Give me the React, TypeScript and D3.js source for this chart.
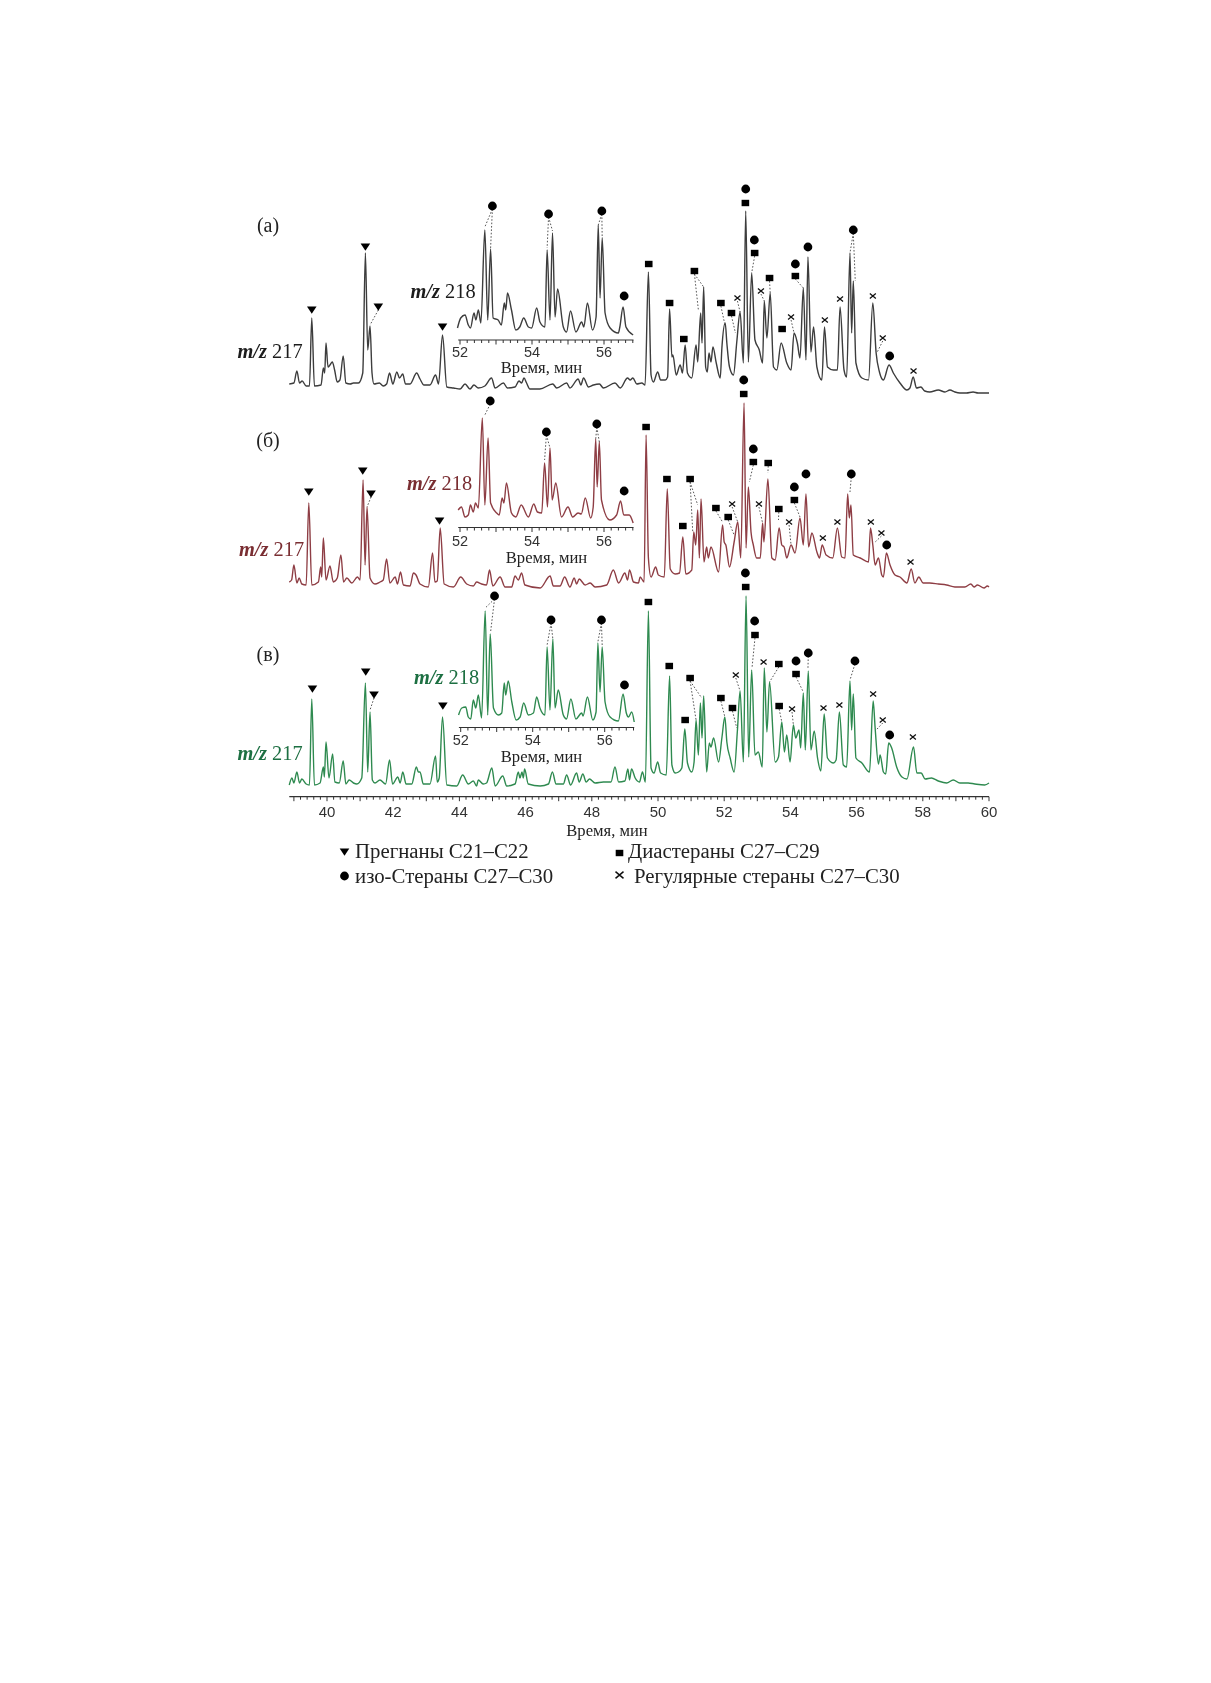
import * as d3 from "d3";

type Pt = [number, number];
type Kind = "tri" | "sq" | "dot" | "x";
// kind, time, intensity, then peaks the dotted leader runs to
type Mark = [Kind, number, number, ...Pt[]];

// m/z 217 traces: [time in min, intensity]
const traceA: Pt[] = [
  [38.86, 6], [39.0, 7], [39.09, 19], [39.17, 7], [39.25, 9], [39.37, 4], [39.47, 4], [39.54, 72], [39.62, 4], [39.82, 5],
  [39.89, 22], [39.93, 17], [39.97, 47], [40.03, 23], [40.09, 25], [40.16, 28], [40.23, 20], [40.31, 8], [40.39, 10], [40.49, 34],
  [40.57, 7], [40.7, 6], [40.8, 7], [40.95, 7], [41.08, 17], [41.16, 137], [41.23, 40], [41.3, 64], [41.36, 17], [41.42, 6],
  [41.58, 7], [41.7, 4], [41.8, 6], [41.89, 17], [41.99, 6], [42.11, 18], [42.19, 12], [42.29, 16], [42.37, 6], [42.51, 6],
  [42.71, 17], [42.81, 11], [42.93, 5], [43.11, 5], [43.28, 15], [43.37, 6], [43.49, 55], [43.62, 3], [43.82, 2], [44.02, 1],
  [44.17, 6], [44.32, 1], [44.44, 5], [44.57, 2], [44.77, 4], [44.97, 12], [45.08, 2], [45.33, 7], [45.45, 2], [45.68, 3],
  [45.8, 9], [45.88, 7], [45.95, 12], [46.03, 7], [46.13, 1], [46.43, 1], [46.82, 6], [46.94, 2], [47.24, 7], [47.34, 2],
  [47.59, 11], [47.67, 5], [47.75, 12], [47.9, 3], [48.05, 5], [48.23, 6], [48.35, 2], [48.7, 7], [48.86, 2], [49.08, 12],
  [49.16, 10], [49.24, 12], [49.36, 6], [49.51, 7], [49.61, 5], [49.71, 118], [49.79, 15], [49.86, 8], [49.99, 18], [50.08, 10],
  [50.22, 10], [50.29, 13], [50.35, 81], [50.42, 33], [50.45, 35], [50.55, 15], [50.67, 25], [50.74, 17], [50.82, 45], [50.89, 17],
  [51.02, 12], [51.15, 45], [51.2, 28], [51.29, 77], [51.33, 47], [51.38, 103], [51.44, 23], [51.49, 18], [51.54, 37], [51.6, 28],
  [51.66, 43], [51.76, 27], [51.88, 12], [51.93, 42], [52.03, 67], [52.08, 47], [52.16, 23], [52.28, 15], [52.38, 48], [52.48, 78],
  [52.58, 27], [52.65, 179], [52.73, 28], [52.83, 117], [52.93, 50], [53.06, 40], [53.16, 27], [53.21, 89], [53.29, 52], [53.39, 97],
  [53.49, 23], [53.59, 20], [53.72, 47], [53.89, 27], [54.02, 20], [54.11, 57], [54.21, 47], [54.29, 32], [54.39, 102], [54.47, 30],
  [54.53, 133], [54.62, 38], [54.7, 63], [54.8, 23], [54.95, 10], [55.03, 63], [55.12, 23], [55.3, 20], [55.42, 20], [55.5, 83],
  [55.62, 20], [55.7, 13], [55.8, 137], [55.85, 57], [55.9, 109], [55.98, 27], [56.16, 12], [56.36, 10], [56.49, 87], [56.59, 37],
  [56.69, 18], [56.81, 10], [56.98, 25], [57.11, 17], [57.31, 7], [57.52, 0], [57.61, 2], [57.71, 13], [57.81, 2], [57.94, 3],
  [58.06, -1], [58.21, -2], [58.47, 0], [58.67, -2], [58.82, 0], [58.97, -2], [59.12, -3], [59.32, -3], [59.52, -2], [59.67, -3],
  [59.87, -3], [60, -3],
];

const traceB: Pt[] = [
  [38.86, 5], [38.93, 7], [39.0, 22], [39.09, 4], [39.16, 9], [39.24, 3], [39.37, 2], [39.45, 84], [39.54, 2], [39.74, 5],
  [39.81, 20], [39.84, 10], [39.89, 49], [39.97, 7], [40.09, 21], [40.19, 5], [40.31, 9], [40.42, 32], [40.5, 5], [40.6, 9],
  [40.75, 4], [40.92, 10], [41.0, 7], [41.09, 107], [41.15, 22], [41.21, 80], [41.3, 9], [41.45, 3], [41.6, 5], [41.7, 7],
  [41.8, 28], [41.9, 4], [42.06, 10], [42.13, 3], [42.22, 15], [42.31, 2], [42.51, 1], [42.61, 14], [42.69, 12], [42.81, 3],
  [43.06, 0], [43.19, 34], [43.26, 5], [43.33, 6], [43.42, 59], [43.54, 3], [43.82, 0], [44.04, 10], [44.22, 3], [44.42, 1],
  [44.52, 5], [44.67, 3], [44.82, 2], [44.91, 17], [45.01, 1], [45.23, 10], [45.38, 0], [45.58, 0], [45.68, 11], [45.78, 7],
  [45.88, 14], [45.98, 2], [46.44, -1], [46.74, 11], [46.84, 1], [47.04, 1], [47.18, 10], [47.34, 0], [47.47, 9], [47.54, 3],
  [47.62, 8], [47.8, 2], [47.95, 4], [48.1, 0], [48.45, 2], [48.65, 17], [48.81, 4], [49.0, 14], [49.08, 7], [49.14, 17],
  [49.26, 5], [49.41, 4], [49.46, 10], [49.58, 5], [49.64, 152], [49.71, 29], [49.79, 10], [49.93, 20], [50.01, 12], [50.19, 10],
  [50.28, 98], [50.37, 18], [50.52, 13], [50.65, 14], [50.75, 50], [50.84, 13], [51.02, 17], [51.08, 55], [51.14, 42], [51.2, 77],
  [51.25, 29], [51.3, 88], [51.39, 25], [51.47, 40], [51.52, 29], [51.6, 40], [51.83, 15], [51.95, 62], [52.0, 45], [52.05, 42],
  [52.16, 20], [52.3, 45], [52.41, 65], [52.5, 29], [52.6, 184], [52.66, 39], [52.73, 100], [52.81, 55], [52.88, 42], [52.98, 29],
  [53.09, 29], [53.16, 64], [53.2, 45], [53.32, 108], [53.44, 29], [53.54, 27], [53.66, 59], [53.74, 42], [53.81, 40], [53.89, 29],
  [54.02, 42], [54.14, 34], [54.29, 69], [54.39, 42], [54.47, 93], [54.55, 40], [54.65, 54], [54.8, 35], [54.88, 29], [54.96, 42],
  [55.08, 32], [55.28, 29], [55.42, 59], [55.55, 30], [55.65, 29], [55.73, 93], [55.78, 69], [55.83, 82], [55.9, 32], [56.11, 29],
  [56.36, 25], [56.42, 59], [56.49, 42], [56.56, 22], [56.66, 29], [56.76, 12], [56.81, 10], [56.9, 34], [57.01, 22], [57.16, 12],
  [57.31, 10], [57.52, 4], [57.65, 18], [57.76, 4], [57.88, 10], [58.01, 4], [58.21, 4], [58.47, 3], [58.72, 2], [58.97, 0],
  [59.27, 0], [59.45, 3], [59.55, 0], [59.65, 2], [59.85, -1], [59.95, 1], [60, 0],
];

const traceC: Pt[] = [
  [38.86, 1], [38.94, 8], [39.0, 3], [39.09, 14], [39.17, 3], [39.24, 7], [39.37, 2], [39.47, 1], [39.54, 87], [39.62, 1],
  [39.79, 3], [39.89, 19], [39.92, 9], [39.97, 44], [40.06, 8], [40.17, 32], [40.24, 4], [40.37, 3], [40.49, 25], [40.57, 2],
  [40.67, 6], [40.8, 3], [40.9, 2], [41.05, 8], [41.16, 103], [41.23, 14], [41.3, 74], [41.37, 6], [41.45, 3], [41.6, 6],
  [41.77, 2], [41.89, 26], [41.98, 2], [42.14, 9], [42.21, 3], [42.29, 14], [42.39, 2], [42.56, 2], [42.7, 19], [42.76, 14],
  [42.81, 14], [42.91, 2], [43.11, 2], [43.28, 30], [43.33, 4], [43.39, 8], [43.49, 69], [43.62, 1], [43.92, 0], [44.1, 11],
  [44.27, 2], [44.42, 5], [44.52, 0], [44.57, 6], [44.72, 2], [44.82, 3], [44.98, 18], [45.08, 0], [45.31, 10], [45.43, 0],
  [45.68, 2], [45.78, 14], [45.83, 8], [45.89, 14], [45.93, 8], [45.97, 17], [46.08, 2], [46.44, 0], [46.69, 2], [46.81, 14],
  [46.92, 2], [47.14, 2], [47.24, 11], [47.36, 1], [47.54, 13], [47.62, 4], [47.73, 12], [47.83, 4], [47.93, 7], [48.1, 3],
  [48.35, 4], [48.58, 4], [48.7, 19], [48.81, 4], [49.0, 5], [49.09, 17], [49.14, 6], [49.2, 17], [49.31, 8], [49.44, 4],
  [49.53, 14], [49.62, 4], [49.71, 175], [49.79, 18], [49.88, 13], [49.99, 24], [50.08, 13], [50.25, 11], [50.35, 110], [50.42, 21],
  [50.52, 13], [50.62, 14], [50.72, 18], [50.81, 57], [50.89, 23], [51.02, 14], [51.09, 24], [51.15, 66], [51.22, 31], [51.28, 83],
  [51.33, 48], [51.38, 90], [51.47, 14], [51.55, 43], [51.6, 39], [51.68, 48], [51.83, 24], [51.93, 48], [52.02, 69], [52.08, 44],
  [52.18, 28], [52.3, 14], [52.4, 56], [52.48, 95], [52.58, 24], [52.66, 190], [52.74, 29], [52.83, 116], [52.93, 31], [53.03, 34],
  [53.15, 19], [53.21, 118], [53.29, 54], [53.37, 104], [53.54, 24], [53.64, 29], [53.74, 64], [53.82, 34], [53.89, 51], [53.99, 24],
  [54.09, 61], [54.16, 48], [54.26, 56], [54.31, 38], [54.39, 93], [54.45, 36], [54.54, 115], [54.62, 36], [54.72, 55], [54.82, 28],
  [54.92, 15], [55.02, 72], [55.12, 28], [55.3, 23], [55.38, 26], [55.48, 74], [55.6, 21], [55.7, 19], [55.8, 105], [55.85, 56],
  [55.9, 92], [55.98, 28], [56.16, 23], [56.39, 14], [56.5, 85], [56.56, 58], [56.66, 22], [56.71, 31], [56.81, 14], [56.88, 12],
  [56.97, 43], [57.06, 38], [57.21, 19], [57.37, 9], [57.52, 7], [57.72, 39], [57.82, 13], [57.95, 13], [58.07, 7], [58.26, 8],
  [58.47, 5], [58.72, 3], [58.92, 6], [59.12, 3], [59.37, 3], [59.57, 2], [59.87, 1], [60, 3],
];

// m/z 218 insets
const insetA: Pt[] = [
  [51.93, 5], [52.02, 15], [52.14, 18], [52.23, 8], [52.29, 5], [52.39, 20], [52.44, 13], [52.51, 23], [52.58, 10], [52.69, 103],
  [52.77, 13], [52.85, 84], [52.92, 15], [53.06, 13], [53.15, 8], [53.23, 30], [53.27, 23], [53.32, 40], [53.43, 23], [53.55, 3],
  [53.66, 6], [53.77, 15], [53.9, 6], [53.99, 5], [54.13, 25], [54.22, 11], [54.36, 6], [54.42, 83], [54.5, 13], [54.57, 100],
  [54.64, 16], [54.71, 44], [54.87, 6], [54.96, 1], [55.07, 22], [55.22, 1], [55.38, 11], [55.44, 6], [55.54, 30], [55.68, 3],
  [55.78, 16], [55.84, 108], [55.89, 35], [55.95, 95], [56.03, 20], [56.17, 5], [56.4, 0], [56.44, 6], [56.53, 26], [56.61, 6],
  [56.81, -2],
];

const insetB: Pt[] = [
  [51.95, 10], [52.04, 13], [52.14, 3], [52.23, 5], [52.29, 15], [52.37, 8], [52.43, 17], [52.51, 12], [52.62, 102], [52.69, 15],
  [52.78, 82], [52.85, 17], [53.02, 7], [53.09, 5], [53.17, 22], [53.22, 17], [53.29, 37], [53.43, 7], [53.55, 3], [53.7, 15],
  [53.9, 3], [54.05, 16], [54.15, 8], [54.27, 7], [54.35, 57], [54.43, 13], [54.5, 72], [54.56, 20], [54.66, 37], [54.82, 3],
  [55, 13], [55.13, 3], [55.28, 7], [55.37, 6], [55.48, 22], [55.63, 2], [55.7, 13], [55.77, 81], [55.81, 33], [55.87, 78],
  [55.93, 20], [56.16, 0], [56.35, 5], [56.46, 19], [56.55, 5], [56.7, 5], [56.81, -3],
];

const insetC: Pt[] = [
  [51.94, 5], [52.03, 12], [52.14, 13], [52.21, 3], [52.28, 1], [52.35, 20], [52.42, 12], [52.49, 25], [52.58, 2], [52.68, 109],
  [52.75, 5], [52.82, 86], [52.91, 12], [53.05, 5], [53.14, 7], [53.21, 37], [53.25, 25], [53.32, 39], [53.42, 18], [53.54, 0],
  [53.65, 3], [53.75, 17], [53.88, 5], [54.02, 7], [54.11, 23], [54.2, 12], [54.34, 5], [54.4, 73], [54.48, 10], [54.56, 81],
  [54.62, 12], [54.71, 30], [54.85, 5], [54.94, 1], [55.06, 21], [55.2, 1], [55.36, 7], [55.4, 4], [55.52, 23], [55.67, 0],
  [55.76, 8], [55.81, 77], [55.87, 28], [55.93, 73], [56.01, 18], [56.15, 3], [56.38, -1], [56.51, 26], [56.6, 7], [56.66, 3],
  [56.75, 8], [56.82, -2],
];

const marksA: Mark[] = [
  ["tri", 39.54, 80], ["tri", 41.16, 143], ["tri", 41.55, 83, [41.3, 65]], ["tri", 43.49, 63],
  ["sq", 49.72, 126], ["sq", 50.35, 87], ["sq", 50.78, 51], ["sq", 51.1, 119, [51.22, 80], [51.38, 103]],
  ["sq", 51.9, 87, [52.01, 67]], ["sq", 52.22, 77, [52.34, 57]], ["x", 52.4, 92, [52.48, 78]],
  ["dot", 52.65, 201], ["sq", 52.64, 187], ["dot", 52.91, 150], ["sq", 52.92, 137, [52.83, 117]],
  ["x", 53.11, 99, [53.21, 89]], ["sq", 53.37, 112, [53.39, 97]], ["sq", 53.75, 61], ["x", 54.02, 73, [54.11, 57]],
  ["dot", 54.15, 126], ["sq", 54.15, 114, [54.39, 102]], ["dot", 54.53, 143], ["x", 55.04, 70], ["x", 55.5, 91],
  ["dot", 55.9, 160, [55.8, 137], [55.96, 109]], ["x", 56.49, 94], ["x", 56.79, 52, [56.61, 37]], ["dot", 57, 34], ["x", 57.72, 19],
];

const marksB: Mark[] = [
  ["tri", 39.45, 95], ["tri", 41.08, 116], ["tri", 41.33, 93, [41.21, 80]], ["tri", 43.4, 66],
  ["sq", 49.64, 160], ["sq", 50.27, 108], ["sq", 50.75, 61], ["sq", 50.97, 108, [51.2, 82], [51.05, 55]],
  ["sq", 51.75, 79, [51.95, 65]], ["sq", 52.12, 70, [52.3, 52]], ["x", 52.24, 83, [52.41, 65]],
  ["dot", 52.59, 207], ["sq", 52.59, 193], ["dot", 52.88, 138], ["sq", 52.88, 125, [52.76, 105]],
  ["sq", 53.33, 124, [53.32, 114]], ["x", 53.05, 83, [53.16, 64]], ["sq", 53.65, 78, [53.64, 67]], ["x", 53.96, 65, [54.02, 42]],
  ["dot", 54.12, 100], ["sq", 54.12, 87, [54.29, 70]], ["dot", 54.47, 113], ["x", 54.98, 49], ["x", 55.42, 65],
  ["dot", 55.84, 113, [55.8, 95]], ["x", 56.43, 65], ["x", 56.75, 54, [56.53, 44]], ["dot", 56.91, 42], ["x", 57.63, 25],
];

const marksC: Mark[] = [
  ["tri", 39.56, 97], ["tri", 41.17, 114], ["tri", 41.42, 91, [41.3, 76]], ["tri", 43.5, 80],
  ["sq", 49.71, 184], ["sq", 50.34, 120], ["sq", 50.82, 66], ["sq", 50.97, 108, [51.15, 66], [51.32, 88]],
  ["sq", 51.9, 88, [52.02, 69]], ["sq", 52.25, 78, [52.38, 58]], ["x", 52.35, 111, [52.48, 95]],
  ["dot", 52.64, 213], ["sq", 52.65, 199], ["dot", 52.92, 165], ["sq", 52.93, 151, [52.84, 118]],
  ["x", 53.19, 124], ["sq", 53.65, 122, [53.37, 104]], ["sq", 53.66, 80, [53.74, 64]], ["x", 54.05, 77, [54.09, 61]],
  ["dot", 54.17, 125], ["sq", 54.17, 112, [54.39, 94]], ["dot", 54.54, 133, [54.53, 117]], ["x", 55, 78], ["x", 55.48, 81],
  ["dot", 55.95, 125, [55.8, 106]], ["x", 56.5, 92], ["x", 56.79, 66, [56.59, 56]], ["dot", 57, 51], ["x", 57.7, 49],
];

const insetMarksA: Mark[] = [
  ["dot", 52.9, 127, [52.69, 106], [52.85, 85]], ["dot", 54.46, 119, [54.42, 85], [54.57, 102]],
  ["dot", 55.94, 122, [55.84, 108], [55.95, 95]], ["dot", 56.56, 37],
];
const insetMarksB: Mark[] = [
  ["dot", 52.84, 119, [52.69, 105]], ["dot", 54.4, 88, [54.35, 60], [54.5, 72]],
  ["dot", 55.8, 96, [55.77, 81], [55.87, 78]], ["dot", 56.56, 29],
];
const insetMarksC: Mark[] = [
  ["dot", 52.94, 124, [52.68, 112], [52.83, 88]], ["dot", 54.51, 100, [54.4, 75], [54.56, 81]],
  ["dot", 55.91, 100, [55.81, 78], [55.93, 75]], ["dot", 56.55, 35],
];

const mainTicks = [40, 42, 44, 46, 48, 50, 52, 54, 56, 58, 60];
const insetTicks = [52, 54, 56];
const legendLeft = [["tri", "Прегнаны С21–С22"], ["dot", "изо-Стераны С27–С30"]] as const;
const legendRight = [["sq", "Диастераны С27–С29"], ["x", "Регулярные стераны С27–С30"]] as const;

const W = 1211;
const H = 1683;
const SERIF = "'Liberation Serif', serif";
const SANS = "'Liberation Sans', sans-serif";
const INK = "#222";

const xMain = d3.scaleLinear().domain([40, 60]).range([327, 989]);
const yFrom = (base: number) => d3.scaleLinear().domain([0, 250]).range([base, base - 250]);

function Glyph({ kind, x, y, big }: { kind: string; x: number; y: number; big?: boolean }) {
  if (kind === "tri") return <path d={`M${x - 4.8},${y - 3.6}H${x + 4.8}L${x},${y + 3.8}Z`} fill="#000" />;
  if (kind === "sq") return <rect x={x - 3.8} y={y - 3.2} width={7.6} height={6.4} fill="#000" />;
  if (kind === "dot") return <circle cx={x} cy={y} r={4.4} fill="#000" />;
  const a = big ? 4 : 3;
  const b = big ? 3.4 : 2.4;
  return <path d={`M${x - a},${y - b}L${x + a},${y + b}M${x + a},${y - b}L${x - a},${y + b}`} stroke="#111" strokeWidth={big ? 1.5 : 1.3} fill="none" />;
}

function Marks({ marks, x, y }: { marks: Mark[]; x: d3.ScaleLinear<number, number>; y: d3.ScaleLinear<number, number> }) {
  return (
    <g>
      {marks.map(([kind, t, v, ...leaders], i) => (
        <g key={i}>
          {leaders.map(([lt, lv], j) => (
            <line key={j} x1={x(t)} y1={y(v) + 3} x2={x(lt)} y2={y(lv)} stroke="#444" strokeWidth={0.9} strokeDasharray="1.6 1.8" />
          ))}
          <Glyph kind={kind} x={x(t)} y={y(v)} />
        </g>
      ))}
    </g>
  );
}

function TimeAxis({ x, y, from, to, labels, labelY, fontSize, color }: {
  x: d3.ScaleLinear<number, number>; y: number; from: number; to: number; labels: number[]; labelY: number; fontSize: number; color: string;
}) {
  const first = Math.ceil(from * 5);
  const minor = d3.range(first, Math.floor(to * 5) + 1).map((d) => d / 5);
  return (
    <g>
      <line x1={x(from)} x2={x(to)} y1={y} y2={y} stroke={color} strokeWidth={1.2} />
      {minor.map((t) => (
        <line key={t} x1={x(t)} x2={x(t)} y1={y} y2={y + (Number.isInteger(t) ? 4.5 : 3)} stroke={color} strokeWidth={1} />
      ))}
      {labels.map((t) => (
        <text key={t} x={x(t)} y={labelY} textAnchor="middle" fontFamily={SANS} fontSize={fontSize} fill="#333">{t}</text>
      ))}
    </g>
  );
}

function MzLabel({ x, y, mz, color }: { x: number; y: number; mz: number; color: string }) {
  return (
    <text x={x} y={y} fontFamily={SERIF} fontSize={20.4} fill={color}>
      <tspan fontStyle="italic" fontWeight="bold">m/z</tspan> {mz}
    </text>
  );
}

const panels = [
  {
    tag: "(а)", tagY: 232, color: "#3c3c3c", text: "#1c1c1c", base: 390, trace: traceA, marks: marksA,
    inset: insetA, insetMarks: insetMarksA, insetBase: 333, insetAxis: 340, insetLabelY: 356.5, insetTitleY: 372.5, insetTitleX: 541.5, insetStart: 460,
    mz218: [410.5, 297.5], mz217: [237.5, 358],
  },
  {
    tag: "(б)", tagY: 447, color: "#8e3e44", text: "#7a2e33", base: 587, trace: traceB, marks: marksB,
    inset: insetB, insetMarks: insetMarksB, insetBase: 520, insetAxis: 527.5, insetLabelY: 545.5, insetTitleY: 562.5, insetTitleX: 546.5, insetStart: 460,
    mz218: [407, 489.5], mz217: [239, 555.5],
  },
  {
    tag: "(в)", tagY: 661, color: "#2f8a50", text: "#1f6f43", base: 786, trace: traceC, marks: marksC,
    inset: insetC, insetMarks: insetMarksC, insetBase: 720, insetAxis: 727.5, insetLabelY: 745, insetTitleY: 761.5, insetTitleX: 541.5, insetStart: 460.7,
    mz218: [414, 684], mz217: [237.5, 760],
  },
];

export default function App() {
  return (
    <svg width={W} height={H} viewBox={`0 0 ${W} ${H}`} style={{ position: "absolute", left: 0, top: 0, background: "#fff" }}>
      <defs>
        <filter id="scan" x="0" y="0" width="1" height="1" filterUnits="objectBoundingBox">
          <feGaussianBlur stdDeviation="0.4" />
        </filter>
      </defs>
      <g filter="url(#scan)">
        <rect width={W} height={H} fill="#fff" />
        {panels.map((p) => {
          const y = yFrom(p.base);
          const xIn = d3.scaleLinear().domain([52, 56]).range([p.insetStart, p.insetStart + 144]);
          const yIn = yFrom(p.insetBase);
          const line = d3.line<Pt>().x((d) => xMain(d[0])).y((d) => y(d[1])).curve(d3.curveMonotoneX);
          const lineIn = d3.line<Pt>().x((d) => xIn(d[0])).y((d) => yIn(d[1])).curve(d3.curveMonotoneX);
          return (
            <g key={p.tag}>
              <text x={268} y={p.tagY} textAnchor="middle" fontFamily={SERIF} fontSize={20} fill={INK}>{p.tag}</text>
              <path d={line(p.trace) ?? ""} fill="none" stroke={p.color} strokeWidth={1.4} strokeLinejoin="round" />
              <Marks marks={p.marks} x={xMain} y={y} />
              <path d={lineIn(p.inset) ?? ""} fill="none" stroke={p.color} strokeWidth={1.4} strokeLinejoin="round" />
              <Marks marks={p.insetMarks} x={xIn} y={yIn} />
              <TimeAxis x={xIn} y={p.insetAxis} from={51.95} to={56.82} labels={insetTicks} labelY={p.insetLabelY} fontSize={14.5} color="#333" />
              <text x={p.insetTitleX} y={p.insetTitleY} textAnchor="middle" fontFamily={SERIF} fontSize={16.6} fill={INK}>Время, мин</text>
              <MzLabel x={p.mz218[0]} y={p.mz218[1]} mz={218} color={p.text} />
              <MzLabel x={p.mz217[0]} y={p.mz217[1]} mz={217} color={p.text} />
            </g>
          );
        })}
        <TimeAxis x={xMain} y={796.7} from={38.86} to={60} labels={mainTicks} labelY={817} fontSize={15} color="#333" />
        <text x={607} y={835.5} textAnchor="middle" fontFamily={SERIF} fontSize={16.6} fill={INK}>Время, мин</text>
        {legendLeft.map(([kind, label], i) => (
          <g key={kind}>
            <Glyph kind={kind} x={344.5} y={852 + i * 24} big />
            <text x={355} y={858 + i * 25} fontFamily={SERIF} fontSize={20.8} fill={INK}>{label}</text>
          </g>
        ))}
        {legendRight.map(([kind, label], i) => (
          <g key={kind}>
            <Glyph kind={kind} x={619.5} y={853 + i * 22} big />
            <text x={i === 0 ? 628 : 634} y={858 + i * 25} fontFamily={SERIF} fontSize={20.8} fill={INK}>{label}</text>
          </g>
        ))}
      </g>
    </svg>
  );
}
